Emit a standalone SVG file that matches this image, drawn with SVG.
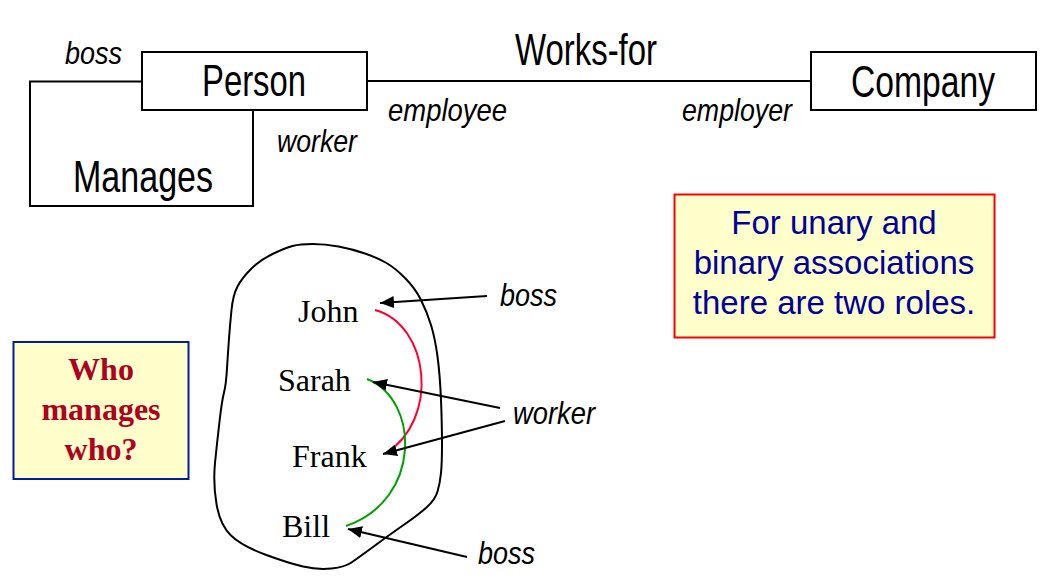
<svg xmlns="http://www.w3.org/2000/svg" width="1053" height="586" viewBox="0 0 1053 586">
  <style>
    .box { fill: #ffffff; stroke: #000000; stroke-width: 2; }
    .line { fill: none; stroke: #000000; stroke-width: 2; }
    .main { font-family: "Liberation Sans Narrow", "Liberation Sans", Arial, sans-serif; font-size: 44px; fill: #000000; }
    .role { font-family: "Liberation Sans Narrow", "Liberation Sans", Arial, sans-serif; font-size: 32px; font-style: italic; fill: #000000; }
    .name { font-family: "Liberation Serif", "Times New Roman", serif; font-size: 32px; fill: #000000; }
    .blob { fill: none; stroke: #000000; stroke-width: 2; stroke-linejoin: round; }
    .arrow { fill: none; stroke: #000000; stroke-width: 2; marker-end: url(#head); }
    .note1 { fill: #ffffcc; stroke: #001e96; stroke-width: 2; }
    .note1 text { font-family: "Liberation Serif", "Times New Roman", serif; font-size: 32px; font-weight: bold; fill: #b00020; stroke: none; }
    .note2 { fill: #ffffcc; stroke: #ff0000; stroke-width: 2; }
    .note2 text { font-family: "Liberation Sans", Arial, sans-serif; font-size: 33px; fill: #000099; stroke: none; }
  </style>
  <defs>
    <marker id="head" viewBox="0 0 14 12" refX="14" refY="6" markerWidth="14" markerHeight="12" markerUnits="userSpaceOnUse" orient="auto">
      <path d="M0,0 L14,6 L0,12 Z" fill="#000000"/>
    </marker>
  </defs>

  <g id="connectors">
    <path id="works-for-line" class="line" d="M367,81 L811,81"/>
    <path id="manages-loop" class="line" d="M142,81.5 H30 V206 H253 V110"/>
    <path id="red-arc" d="M375,310 C430,325 440,420 385,454" fill="none" stroke="#ff0033" stroke-width="2"/>
    <path id="green-arc" d="M367,379 C420,400 422,500 346,526" fill="none" stroke="#00a000" stroke-width="2"/>
    <path id="arrow-boss-john" class="arrow" d="M487,296 L380,303"/>
    <path id="arrow-worker-sarah" class="arrow" d="M500,408 L373,382"/>
    <path id="arrow-worker-frank" class="arrow" d="M505,421 L383,454"/>
    <path id="arrow-boss-bill" class="arrow" d="M467,557 L348,529"/>
  </g>

  <g id="node-person">
    <rect class="box" x="142" y="52" width="225" height="58"/>
    <text class="main" x="254" y="96" text-anchor="middle" textLength="104" lengthAdjust="spacingAndGlyphs">Person</text>
  </g>

  <g id="node-company">
    <rect class="box" x="811" y="52" width="225" height="58"/>
    <text class="main" x="923" y="97" text-anchor="middle" textLength="144" lengthAdjust="spacingAndGlyphs">Company</text>
  </g>

  <g id="label-works-for">
    <text class="main" x="586" y="65" text-anchor="middle" textLength="142" lengthAdjust="spacingAndGlyphs">Works-for</text>
  </g>

  <g id="label-manages">
    <text class="main" x="143" y="192" text-anchor="middle" textLength="140" lengthAdjust="spacingAndGlyphs">Manages</text>
  </g>

  <g id="role-labels">
    <text class="role" x="65" y="64" textLength="57" lengthAdjust="spacingAndGlyphs">boss</text>
    <text class="role" x="277" y="152" textLength="80" lengthAdjust="spacingAndGlyphs">worker</text>
    <text class="role" x="388" y="121" textLength="119" lengthAdjust="spacingAndGlyphs">employee</text>
    <text class="role" x="682" y="121" textLength="110" lengthAdjust="spacingAndGlyphs">employer</text>
    <text class="role" x="500" y="306" textLength="57" lengthAdjust="spacingAndGlyphs">boss</text>
    <text class="role" x="513" y="424" textLength="82" lengthAdjust="spacingAndGlyphs">worker</text>
    <text class="role" x="478" y="564" textLength="57" lengthAdjust="spacingAndGlyphs">boss</text>
  </g>

  <g id="node-people-set">
    <path class="blob" d="M292.5,246 Q300,244 312.5,244 Q325,244 338.5,246.5 Q352,249 365,253.5 Q378,258 386.5,263 Q395,268 405,278 Q415,288 421,300 Q427,312 431,325 Q435,338 437.5,356.5 Q440,375 441,400 Q442,425 442,444 Q442,463 441,473 Q440,483 437.5,491.5 Q435,500 426.5,507.5 Q418,515 405,524 Q392,533 375,545.5 Q358,558 351.5,562.5 Q345,567 331.5,568.5 Q318,570 303,566.5 Q288,563 265,554.5 Q242,546 231,535.5 Q220,525 216.5,504 Q213,483 215,463 Q217,443 219.5,421.5 Q222,400 224,392.5 Q226,385 227,368.5 Q228,352 229,338.5 Q230,325 231.5,310 Q233,295 237.5,286.5 Q242,278 251,269 Q260,260 272.5,254 Q285,248 292.5,246 Z"/>
  </g>
  <g id="node-john"><text class="name" x="298" y="322">John</text></g>
  <g id="node-sarah"><text class="name" x="278" y="391">Sarah</text></g>
  <g id="node-frank"><text class="name" x="292" y="467">Frank</text></g>
  <g id="node-bill"><text class="name" x="282" y="537">Bill</text></g>

  <g id="note-who" class="note1">
    <rect x="13.5" y="342" width="175" height="137"/>
    <text x="101" y="380" text-anchor="middle">Who</text>
    <text x="101" y="420" text-anchor="middle">manages</text>
    <text x="101" y="460" text-anchor="middle">who?</text>
  </g>

  <g id="note-roles" class="note2">
    <rect x="674.5" y="194.5" width="320" height="143"/>
    <text x="834" y="234" text-anchor="middle">For unary and</text>
    <text x="834" y="274" text-anchor="middle">binary associations</text>
    <text x="834" y="314" text-anchor="middle">there are two roles.</text>
  </g>
</svg>
